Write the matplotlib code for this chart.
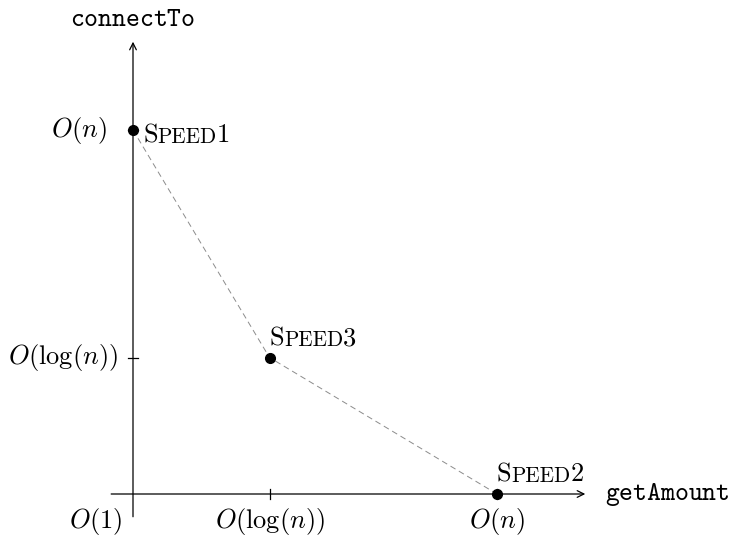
import matplotlib
matplotlib.use("Agg")
import matplotlib.pyplot as plt

plt.rcParams['mathtext.fontset'] = 'cm'
plt.rcParams['font.family'] = 'serif'
plt.rcParams['font.serif'] = ['cmr10', 'DejaVu Serif']
plt.rcParams['axes.formatter.use_mathtext'] = True

# complexity positions (in "units" of the sketch)
names = ["1", "3", "2"]
get_amount = [0.0, 1.5, 4.0]   # x: O(1), O(log n), O(n)
connect_to = [4.0, 1.5, 0.0]   # y
tick_pos = [1.5, 4.0]
xtick_labels = [r"$O(\log(n))$", r"$O(n)$"]
ytick_labels = [r"$O(\log(n))$", r"$O(n)$"]
origin_label = r"$O(1)$"

FS = 19
unit = 91.0
fig = plt.figure(figsize=(7.32, 5.36), dpi=100)
ax = fig.add_axes([0, 0, 1, 1])
ax.set_xlim(-133 / unit, (732 - 133) / unit)
ax.set_ylim(-(536 - 494) / unit, 494 / unit)
ax.axis("off")

# axes with open arrow heads
arrow = dict(arrowstyle="->", lw=0.9, color="black", shrinkA=0, shrinkB=0,
             mutation_scale=12)
ax.annotate("", xy=(4.97, 0), xytext=(-0.24, 0), arrowprops=arrow)
ax.annotate("", xy=(0, 4.97), xytext=(0, -0.25), arrowprops=arrow)
ax.text(0, 5.22, r"$\mathtt{connectTo}$", fontsize=FS, ha="center", va="center")
ax.text(5.19, 0, r"$\mathtt{getAmount}$", fontsize=FS, ha="left", va="center")

# ticks
for p in tick_pos:
    ax.plot([p, p], [-0.05, 0.05], color="black", lw=0.9)
    ax.plot([-0.05, 0.05], [p, p], color="black", lw=0.9)
for p, lab in zip(tick_pos, xtick_labels):
    ax.text(p, -0.30, lab, fontsize=FS, ha="center", va="center")
for p, lab in zip(tick_pos, ytick_labels):
    right = -0.165 if p < 3 else -0.286
    ax.text(right, p, lab, fontsize=FS, ha="right", va="center")
ax.text(-0.12, -0.30, origin_label, fontsize=FS, ha="right", va="center")

# dashed trade-off curve and points
ax.plot(get_amount, connect_to, color="#8c8c8c", lw=0.7, dashes=(6, 4))
ax.plot(get_amount, connect_to, "o", color="black", ms=7, zorder=5)


def small_caps_label(x, y, num):
    # "Speed<n>" in small caps: big S, smaller PEED, then the digit
    t1 = ax.text(x, y, "S", fontsize=FS, family="cmr10", ha="left", va="baseline")
    t2 = ax.annotate("PEED", xy=(1, 0), xycoords=t1, fontsize=FS * 0.8,
                     family="cmr10", ha="left", va="bottom")
    ax.annotate(num, xy=(1, 0), xycoords=t2, fontsize=FS, family="cmr10",
                ha="left", va="bottom")


offsets = {"1": (0.11, 3.868), "3": (1.5, 1.637), "2": (4.0, 0.14)}
for n in names:
    small_caps_label(*offsets[n], n)

fig.savefig("out.png", dpi=100)
